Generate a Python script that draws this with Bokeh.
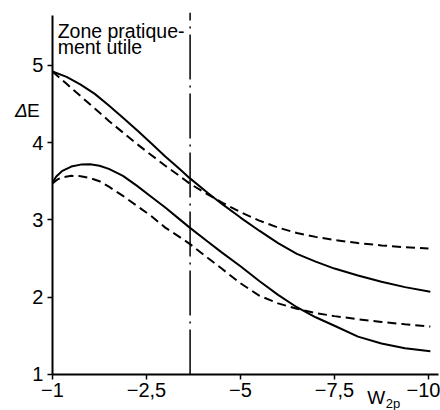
import numpy as np
from bokeh.plotting import figure
from bokeh.models import Range1d, FixedTicker, Label
from bokeh.embed import file_html
from bokeh.resources import INLINE

# ---- data ----
W_TICKS = [-1, -2.5, -5, -7.5, -10]
W_TICK_LABELS = ["−1", "−2,5", "−5", "−7,5", "−10"]
Y_TICKS = [1, 2, 3, 4, 5]
Y_TOP = 5.64          # top end of the drawn E axis
ZONE_LIMIT_W = -3.66  # dash-dot limit of the "zone pratiquement utile"

# upper pair
upper_solid_w = [-1, -1.225, -1.45, -1.675, -1.9, -2.125, -2.35, -2.625, -3.0, -3.375, -3.65, -4.125,
                 -4.525, -5, -5.5, -6, -6.5, -7, -7.5, -8.125, -8.75, -9.375, -10.05]
upper_solid_e = [4.92, 4.85, 4.75, 4.63, 4.48, 4.32, 4.16, 3.99, 3.82, 3.66, 3.54, 3.35,
                 3.20, 3.03, 2.86, 2.70, 2.56, 2.46, 2.37, 2.28, 2.20, 2.13, 2.07]

upper_dash_w = [-1, -1.225, -1.45, -1.675, -1.9, -2.125, -2.35, -2.625, -3.0, -3.375, -3.65, -4.125,
                -4.525, -5, -5.5, -6, -6.5, -7, -7.5, -8.125, -8.75, -9.375, -10]
upper_dash_e = [4.92, 4.76, 4.60, 4.44, 4.28, 4.13, 3.98, 3.84, 3.70, 3.57, 3.47, 3.33,
                3.22, 3.10, 2.99, 2.90, 2.83, 2.78, 2.74, 2.70, 2.67, 2.645, 2.63]

# lower pair
lower_solid_w = [-1, -1.06, -1.15, -1.3, -1.45, -1.6, -1.75, -1.9, -2.125, -2.35, -2.625, -3.0, -3.375,
                 -3.65, -4.125, -4.5, -5, -5.5, -6, -6.5, -7, -7.5, -8.125, -8.75, -9.375, -10.05]
lower_solid_e = [3.48, 3.56, 3.63, 3.69, 3.715, 3.72, 3.70, 3.66, 3.57, 3.44, 3.30, 3.16, 3.01,
                 2.90, 2.72, 2.58, 2.40, 2.21, 2.03, 1.87, 1.74, 1.63, 1.49, 1.40, 1.34, 1.30]

lower_dash_w = [-1, -1.075, -1.15, -1.3, -1.45, -1.6, -1.75, -1.9, -2.125, -2.35, -2.625, -3.0, -3.375,
                -3.65, -4.125, -4.5, -5, -5.5, -6, -6.5, -7, -7.5, -8.125, -8.75, -9.375, -10.05]
lower_dash_e = [3.47, 3.52, 3.55, 3.57, 3.565, 3.54, 3.50, 3.43, 3.31, 3.18, 3.05, 2.90, 2.78,
                2.69, 2.51, 2.37, 2.18, 2.02, 1.92, 1.85, 1.795, 1.755, 1.715, 1.68, 1.65, 1.62]


def to_pos(w):
    """Axis scale of the original: ticks -1, -2.5, -5, -7.5, -10 equally spaced."""
    a = -np.asarray(w, dtype=float)
    return np.where(a <= 2.5, (a - 1.0) / 1.5, 1.0 + (a - 2.5) / 2.5)


FONT = "Liberation Sans"
BLACK = "black"

p = figure(width=440, height=410, output_backend="svg", toolbar_location=None,
           x_range=Range1d(-0.553, 4.128), y_range=Range1d(0.534, 5.838),
           min_border=0)
p.outline_line_color = None
p.grid.visible = False
p.background_fill_color = "white"
p.border_fill_color = "white"

tick_pos = [float(v) for v in to_pos(W_TICKS)]
xax = p.xaxis[0]
yax = p.yaxis[0]
xax.ticker = FixedTicker(ticks=tick_pos)
xax.major_label_overrides = {t: l for t, l in zip(tick_pos, W_TICK_LABELS)}
xax.fixed_location = 1
xax.bounds = (0, 4.11)
yax.ticker = FixedTicker(ticks=Y_TICKS)
yax.fixed_location = 0
yax.bounds = (1, Y_TOP)

for ax in (xax, yax):
    ax.axis_line_width = 2
    ax.axis_line_color = BLACK
    ax.major_tick_line_color = BLACK
    ax.major_tick_line_width = 1.5
    ax.major_tick_in = 0
    ax.major_tick_out = 5
    ax.minor_tick_line_color = None
    ax.major_label_text_font = FONT
    ax.major_label_text_font_size = "20px"
    ax.major_label_text_color = BLACK
    ax.major_label_standoff = 4

p.line(to_pos(upper_solid_w), upper_solid_e, line_color=BLACK, line_width=2)
p.line(to_pos(upper_dash_w), upper_dash_e, line_color=BLACK, line_width=2, line_dash="9 5")
p.line(to_pos(lower_solid_w), lower_solid_e, line_color=BLACK, line_width=2)
p.line(to_pos(lower_dash_w), lower_dash_e, line_color=BLACK, line_width=2, line_dash="9 5")

zx = float(to_pos(ZONE_LIMIT_W))
p.line([zx, zx], [1, Y_TOP + 0.04], line_color=BLACK, line_width=1.5, line_dash="45 6 2 6")

p.add_layout(Label(x=0.055, y=5.444, text="Zone pratique-", text_font=FONT,
                   text_font_size="19.5px", text_color=BLACK, text_baseline="alphabetic"))
p.add_layout(Label(x=0.055, y=5.231, text="ment utile", text_font=FONT,
                   text_font_size="19.5px", text_color=BLACK, text_baseline="alphabetic"))

p.add_layout(Label(x=-0.40, y=4.41, text="Δ", text_font=FONT, text_font_style="italic",
                   text_font_size="19px", text_color=BLACK, text_baseline="middle"))
p.add_layout(Label(x=-0.27, y=4.41, text="E", text_font=FONT,
                   text_font_size="19px", text_color=BLACK, text_baseline="middle"))
p.add_layout(Label(x=3.35, y=0.70, text="W", text_font=FONT,
                   text_font_size="19px", text_color=BLACK, text_baseline="alphabetic"))
p.add_layout(Label(x=3.545, y=0.625, text="2p", text_font=FONT,
                   text_font_size="13px", text_color=BLACK, text_baseline="alphabetic"))

open("out.html", "w").write(file_html(p, INLINE))
